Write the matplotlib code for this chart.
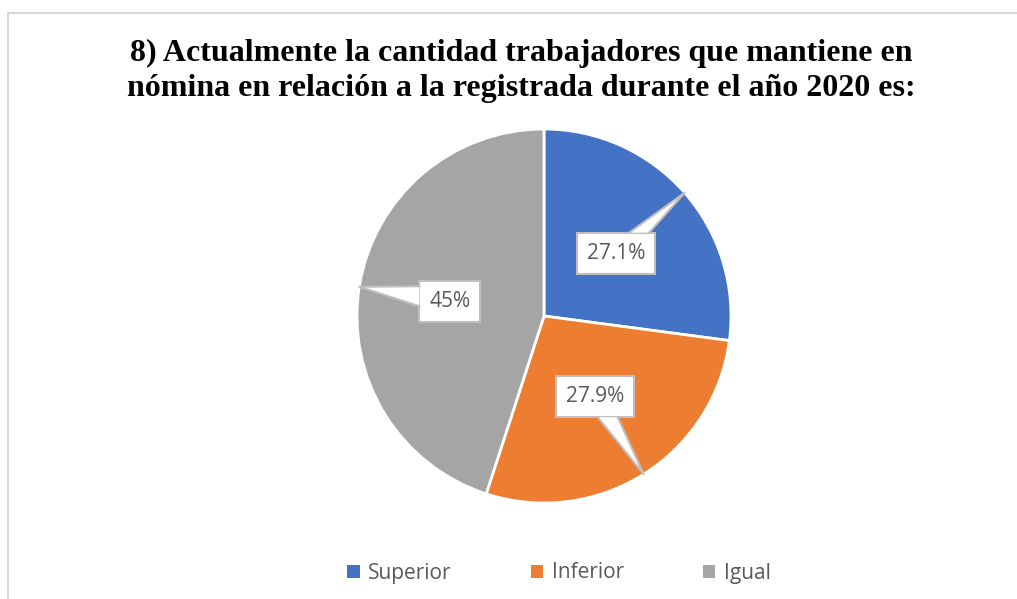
import matplotlib.pyplot as plt
from matplotlib.patches import Rectangle, Polygon
from matplotlib.lines import Line2D
import numpy as np

categorias = ["Superior", "Inferior", "Igual"]
porcentajes = [27.1, 27.9, 45.0]
etiquetas = ["27.1%", "27.9%", "45%"]
colores = ["#4472C4", "#ED7D31", "#A5A5A5"]

W, H = 1017, 599
fig = plt.figure(figsize=(W / 100, H / 100), dpi=100)
ax = fig.add_axes([0, 0, 1, 1])
ax.set_xlim(0, W)
ax.set_ylim(0, H)
ax.set_aspect("equal")
ax.axis("off")

# marco del grafico
fig.add_artist(Line2D([7.5 / W, 1], [1 - 12.5 / H, 1 - 12.5 / H], color="#D9D9D9", lw=1.5))
fig.add_artist(Line2D([7.5 / W, 7.5 / W], [0, 1 - 12.5 / H], color="#D9D9D9", lw=1.5))

cx, cy, R = 544, H - 316, 187
wedges, _ = ax.pie(porcentajes, colors=colores, startangle=90, counterclock=False,
                   center=(cx, cy), radius=R, frame=True,
                   wedgeprops=dict(edgecolor="white", linewidth=2))
ax.set_xlim(0, W)
ax.set_ylim(0, H)
ax.axis("off")

# etiquetas tipo globo
textos = []
for w, lab in zip(wedges, etiquetas):
    mid = np.deg2rad((w.theta1 + w.theta2) / 2)
    bx = cx + 0.51 * R * np.cos(mid)
    by = cy + 0.51 * R * np.sin(mid)
    t = ax.text(bx, by, lab, ha="center", va="center", fontsize=15,
                family="Open Sans", color="#595959", zorder=6)
    textos.append((t, mid))

fig.canvas.draw()
rend = fig.canvas.get_renderer()
for t, mid in textos:
    bb = t.get_window_extent(rend)
    padx, pady = 10, 11
    x0, x1 = bb.x0 - padx, bb.x1 + padx
    y0, y1 = bb.y0 - pady + 1, bb.y1 + pady - 1
    ax.add_patch(Rectangle((x0, y0), x1 - x0, y1 - y0, facecolor="white",
                           edgecolor="#BFBFBF", lw=1.5, zorder=4))
    tx = cx + R * np.cos(mid)
    ty = cy + R * np.sin(mid)
    mx, my = (x0 + x1) / 2, (y0 + y1) / 2
    dx, dy = tx - mx, ty - my
    hw = (x1 - x0) / 2
    hh = (y1 - y0) / 2
    half = 10
    if abs(dx) * hh > abs(dy) * hw:
        ex = x1 if dx > 0 else x0
        ey = my + dy * (hw / abs(dx))
        ey = min(max(ey, y0 + half + 2), y1 - half - 2)
        b1, b2 = (ex, ey - half), (ex, ey + half)
    else:
        ey = y1 if dy > 0 else y0
        ex = mx + dx * (hh / abs(dy))
        ex = min(max(ex, x0 + half + 2), x1 - half - 2)
        b1, b2 = (ex - half, ey), (ex + half, ey)
    ax.add_patch(Polygon([b1, (tx, ty), b2], closed=True, facecolor="white",
                         edgecolor="none", zorder=5))
    ax.plot([b1[0], tx, b2[0]], [b1[1], ty, b2[1]], color="#BFBFBF", lw=1.5, zorder=5)

fig.text(521 / W, 1 - 71 / H, "8) Actualmente la cantidad trabajadores que mantiene en\n"
         "nómina en relación a la registrada durante el año 2020 es:",
         ha="center", va="center", fontsize=23, fontweight="bold",
         family="Liberation Serif", color="black", linespacing=1.3)

leg = ax.legend(wedges, categorias, loc="center", bbox_to_anchor=(559 / W, 1 - 573 / H),
                bbox_transform=fig.transFigure, ncol=3, frameon=False,
                prop=dict(family="Open Sans", size=15), labelcolor="#595959",
                handlelength=0.6, handleheight=0.6, handletextpad=0.4, columnspacing=3.8)
for h in leg.legend_handles:
    h.set_edgecolor("none")

fig.savefig("out.png", dpi=100)
